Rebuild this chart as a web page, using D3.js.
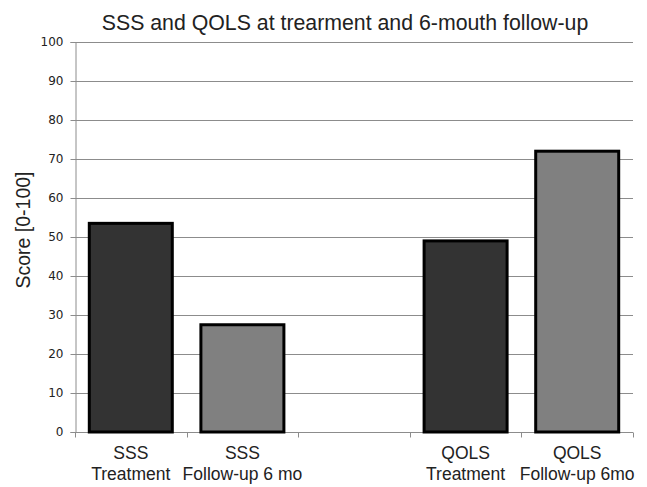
<!DOCTYPE html>
<html><head><meta charset="utf-8">
<script src="https://cdn.jsdelivr.net/npm/d3@7"></script>
<style>body{margin:0;background:#fff}svg{display:block}</style>
</head><body>
<svg id="c" width="647" height="487"></svg>
<script>
const categories = ["SSS|Treatment","SSS|Follow-up 6 mo","","QOLS|Treatment","QOLS|Follow-up 6mo"];
const values = [53.5, 27.5, null, 49, 72];
const barColors = ["#333333","#808080",null,"#333333","#808080"];
const yTicks = [0,10,20,30,40,50,60,70,80,90,100];

const svg = d3.select("#c");
const font = "Liberation Sans, Arial, sans-serif";
const tickFont = "DejaVu Sans, Verdana, sans-serif";
const m = {l:75, r:14, t:42, b:55};
const W = 647, H = 487;
const y = d3.scaleLinear().domain([0,100]).range([H-m.b, m.t]);

// gridlines
svg.append("g").selectAll("line").data(yTicks.filter(d=>d>0)).join("line")
  .attr("x1", m.l).attr("x2", W-m.r)
  .attr("y1", d=>Math.round(y(d))+0.5).attr("y2", d=>Math.round(y(d))+0.5)
  .attr("stroke", "#8c8c8c").attr("stroke-width", 1);

// y axis
const ya = svg.append("g").attr("transform", `translate(${m.l+0.5},0)`)
  .call(d3.axisLeft(y).tickValues(yTicks).tickSize(5).tickPadding(7));
ya.select(".domain").attr("stroke", "#8c8c8c");
ya.selectAll(".tick line").attr("stroke", "#8c8c8c");
ya.selectAll(".tick text").attr("font-family", tickFont).attr("font-size", 12).attr("fill", "#222");

// x axis
const xb = d3.scaleLinear().domain([0, categories.length]).range([m.l, W-m.r]);
const xa = svg.append("g").attr("transform", `translate(0,${Math.round(y(0))+0.5})`);
xa.append("line").attr("x1", m.l).attr("x2", W-m.r).attr("stroke", "#8c8c8c");
xa.selectAll("line.t").data(d3.range(categories.length+1)).join("line").attr("class","t")
  .attr("x1", d=>Math.round(xb(d))+0.5).attr("x2", d=>Math.round(xb(d))+0.5)
  .attr("y1", 0).attr("y2", 5).attr("stroke", "#8c8c8c");

// bars
const bw = 86;
svg.append("g").selectAll("rect").data(values.map((v,i)=>({v,i})).filter(d=>d.v!=null)).join("rect")
  .attr("x", d=>xb(d.i+0.5) - bw/2 + 1.5)
  .attr("width", bw - 3)
  .attr("y", d=>y(d.v))
  .attr("height", d=>y(0)-y(d.v))
  .attr("fill", d=>barColors[d.i])
  .attr("stroke", "#000").attr("stroke-width", 3);

// x labels
const lab = svg.append("g");
categories.forEach((c,i)=>{
  if(!c) return;
  const parts = c.split("|");
  parts.forEach((p,j)=>{
    lab.append("text").attr("x", xb(i+0.5)).attr("y", 459 + j*21)
      .attr("text-anchor","middle").attr("font-family", font).attr("font-size", 17.5)
      .attr("fill","#222").text(p);
  });
});

// title
svg.append("text").attr("x", 345).attr("y", 30).attr("text-anchor","middle")
  .attr("font-family", font).attr("font-size", 21.3).attr("fill","#222")
  .text("SSS and QOLS at trearment and 6-mouth follow-up");

// y title
svg.append("text").attr("transform", `translate(30,230) rotate(-90)`)
  .attr("text-anchor","middle").attr("font-family", font).attr("font-size", 19.5).attr("fill","#222")
  .text("Score [0-100]");
</script>
</body></html>
